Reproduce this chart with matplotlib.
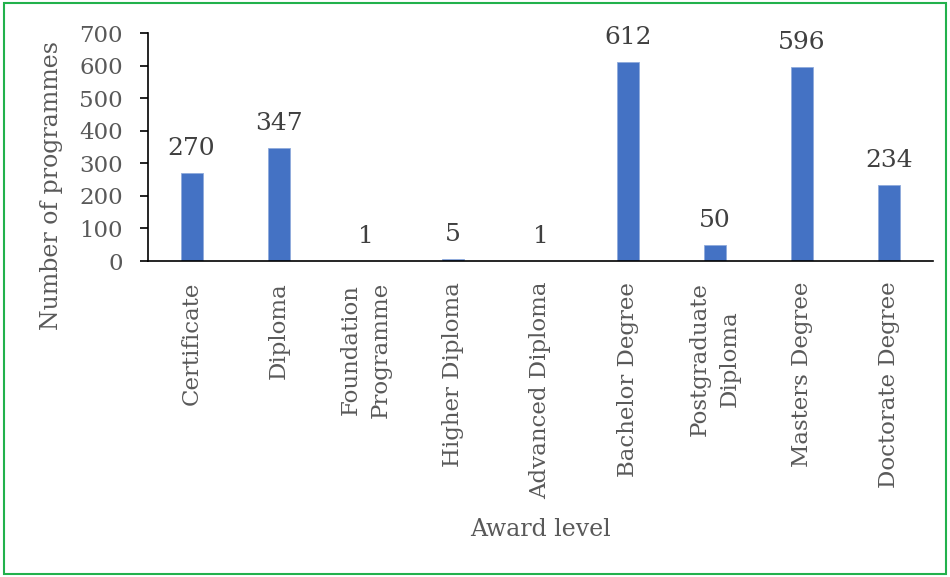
import matplotlib
matplotlib.use('Agg')
from matplotlib import pyplot as plt
import numpy as np
from matplotlib.patches import Rectangle

niveles = ['Certificate', 'Diploma', 'Foundation\nProgramme', 'Higher Diploma',
           'Advanced Diploma', 'Bachelor Degree', 'Postgraduate\nDiploma',
           'Masters Degree', 'Doctorate Degree']
programas = [270, 347, 1, 5, 1, 612, 50, 596, 234]
yticks = [0, 100, 200, 300, 400, 500, 600, 700]

plt.rcParams['font.family'] = ['DejaVu Serif']

fig = plt.figure(figsize=(9.5, 5.77), dpi=100)
ax = fig.add_axes([148 / 950, 1 - 261 / 577, (933 - 148) / 950, (261 - 33) / 577])

X = np.arange(len(niveles))
barras = ax.bar(X, programas, width=0.25, color='#4472c4', edgecolor='#8faadc', linewidth=0.6)

for b, v in zip(barras, programas):
    ax.annotate(str(v), (b.get_x() + b.get_width() / 2, v), xytext=(0, 13),
                textcoords='offset points', ha='center', va='baseline',
                fontsize=18, color='#404040')

ax.set_xlim(-0.5, len(niveles) - 0.5)
ax.set_ylim(0, 700)
ax.set_yticks(yticks)
ax.set_xticks(X)
ax.set_xticklabels(niveles, rotation=90, multialignment='center', linespacing=1.45)
ax.tick_params(axis='x', length=0, pad=15, labelsize=16.5, labelcolor='#595959')
ax.tick_params(axis='y', length=6, width=1.2, pad=12, labelsize=16.5, labelcolor='#595959')

for s in ['top', 'right']:
    ax.spines[s].set_visible(False)
ax.spines['left'].set_linewidth(1.2)
ax.spines['bottom'].set_linewidth(1.2)

fig.text(540 / 950, 1 - 530 / 577, 'Award level', ha='center', va='center',
         fontsize=17, color='#595959')
fig.text(52 / 950, 1 - 185 / 577, 'Number of programmes', ha='center', va='center',
         rotation=90, fontsize=17, color='#595959')

fig.patches.append(Rectangle((4 / 950, 3 / 577), 942 / 950, 571 / 577, transform=fig.transFigure,
                             fill=False, edgecolor='#22b14c', linewidth=1.5))

fig.savefig('out.png', dpi=100)
